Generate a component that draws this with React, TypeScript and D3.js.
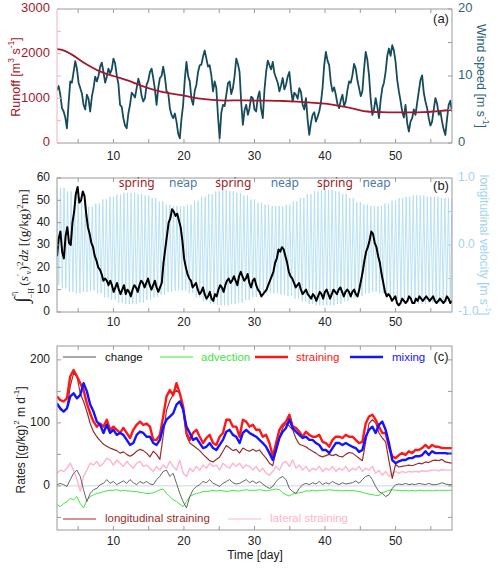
import React from 'react';
import * as d3 from 'd3';

// ---------- data ----------
const DAY_DOMAIN: [number, number] = [2, 58];
const DAY_TICKS = [5, 10, 15, 20, 25, 30, 35, 40, 45, 50, 55];
const DAY_LABELS = [10, 20, 30, 40, 50];

const runoffDays = [2, 3, 4, 6, 8, 10, 12, 14, 16, 18, 20, 22, 24, 26, 28, 30, 32, 34, 36, 38, 40, 42, 44, 46, 48, 50, 52, 54, 56, 58];
const runoff = [2100, 2070, 1990, 1780, 1610, 1500, 1400, 1280, 1180, 1110, 1060, 1000, 965, 950, 955, 950, 950, 940, 925, 905, 880, 830, 770, 705, 690, 685, 685, 690, 715, 740];

// wind speed, evenly sampled from day 2 to day 58
const wind = [7.9, 8.5, 7.2, 5.2, 4.7, 3.8, 2.2, 6.0, 9.2, 9.0, 10.6, 12.2, 11.1, 9.0, 8.2, 7.4, 5.7, 5.0, 7.2, 6.6,
  4.7, 6.9, 8.2, 9.9, 9.2, 10.0, 11.4, 12.0, 10.6, 9.0, 9.9, 11.1, 10.4, 11.0, 12.6, 11.9, 10.1, 8.8, 5.7, 5.4,
  3.7, 2.6, 2.2, 4.4, 5.7, 7.5, 7.2, 6.8, 8.2, 9.6, 8.7, 7.0, 6.2, 6.7, 8.7, 9.3, 10.6, 11.1, 9.7, 8.0,
  5.7, 8.2, 9.7, 10.0, 11.4, 9.9, 7.7, 7.5, 5.2, 4.2, 3.7, 4.4, 3.2, 1.4, 0.7, 3.6, 5.7, 9.5, 12.1, 10.0,
  9.2, 6.6, 5.7, 7.8, 8.7, 10.6, 11.6, 11.7, 12.9, 13.8, 12.6, 11.4, 11.6, 10.1, 7.7, 9.2, 8.2, 4.0, 0.7, 4.5,
  5.7, 5.5, 7.2, 8.9, 9.2, 7.3, 8.2, 10.0, 12.6, 11.8, 10.6, 6.0, 2.7, 4.9, 5.7, 4.2, 5.2, 6.9, 6.7, 5.0,
  4.7, 6.8, 7.7, 5.1, 3.7, 7.9, 10.6, 12.3, 11.6, 11.0, 12.1, 10.4, 9.7, 9.0, 7.7, 8.6, 9.7, 8.0, 8.7, 9.9,
  10.6, 8.0, 6.2, 7.5, 7.2, 6.6, 8.2, 7.6, 5.7, 5.0, 6.7, 3.5, 1.2, 3.0, 4.2, 4.6, 3.2, 3.9, 4.7, 6.0,
  8.2, 11.6, 13.6, 12.3, 11.6, 9.0, 7.7, 8.3, 7.2, 5.8, 5.2, 6.4, 7.2, 5.5, 6.2, 7.9, 9.2, 9.0, 10.1, 11.8,
  11.1, 9.4, 8.2, 7.0, 7.7, 11.0, 13.6, 12.4, 10.1, 6.6, 4.2, 5.0, 6.7, 5.4, 3.7, 6.4, 8.2, 9.0, 10.6, 13.0,
  14.1, 13.0, 14.6, 13.8, 12.1, 9.4, 7.7, 6.3, 4.7, 3.8, 5.7, 3.0, 1.7, 3.2, 3.7, 5.0, 4.2, 6.0, 7.7, 9.4,
  10.1, 7.5, 6.2, 5.2, 3.7, 2.6, 3.2, 5.0, 6.7, 5.9, 4.2, 4.8, 3.2, 2.0, 1.2, 3.6, 5.7, 6.3, 4.7];

// depth-integrated salinity variance, evenly sampled from day 2 to day 58
const saltVar = [25, 33, 36, 27, 24, 34, 38, 31, 30, 40, 45, 53, 56, 49, 50, 54, 52, 44, 38, 35,
  31, 29, 25, 23, 20, 19, 17, 14, 15, 14, 12, 14, 12, 9, 11, 13, 10, 8, 10, 12,
  8, 10, 9, 7, 10, 12, 11, 9, 12, 14, 13, 11, 13, 15, 12, 10, 12, 14, 11, 9,
  11, 13, 22, 28, 34, 40, 42, 46, 45, 43, 44, 41, 38, 32, 24, 20, 17, 15, 14, 11,
  12, 13, 10, 8, 9, 11, 8, 6, 7, 9, 6, 5, 8, 7, 10, 12, 11, 9, 12, 14,
  15, 13, 14, 16, 14, 12, 16, 18, 16, 14, 15, 17, 13, 11, 14, 15, 12, 10, 9, 7,
  8, 9, 10, 12, 14, 16, 18, 22, 24, 28, 27, 29, 28, 25, 22, 18, 16, 15, 13, 11,
  12, 13, 10, 8, 9, 10, 8, 7, 6, 8, 7, 5, 7, 9, 8, 6, 9, 10, 8, 6,
  8, 10, 9, 8, 10, 11, 9, 7, 9, 10, 9, 7, 9, 10, 8, 7, 10, 14, 18, 23,
  27, 29, 32, 36, 35, 31, 29, 25, 22, 17, 13, 9, 7, 8, 7, 5, 6, 7, 4, 3,
  4, 6, 5, 4, 5, 7, 6, 4, 4, 6, 5, 7, 6, 5, 6, 7, 6, 5, 6, 7,
  5, 4, 5, 6, 5, 4, 5, 7, 6, 4, 5];

// daily flood / ebb peaks of longitudinal velocity, days 2..58
const velHigh = [0.84, 0.85, 0.80, 0.74, 0.64, 0.57, 0.62, 0.68, 0.72, 0.75, 0.78, 0.78, 0.76, 0.74, 0.70, 0.65, 0.60, 0.58, 0.58, 0.60,
  0.66, 0.72, 0.76, 0.80, 0.82, 0.80, 0.78, 0.74, 0.68, 0.63, 0.60, 0.58, 0.58, 0.60, 0.65, 0.70, 0.76, 0.80, 0.82, 0.82,
  0.80, 0.76, 0.70, 0.64, 0.60, 0.58, 0.58, 0.62, 0.66, 0.70, 0.72, 0.74, 0.74, 0.72, 0.72, 0.70, 0.70];
const velLow = [-0.60, -0.65, -0.70, -0.72, -0.70, -0.68, -0.72, -0.78, -0.82, -0.86, -0.88, -0.88, -0.86, -0.82, -0.78, -0.74, -0.70, -0.68, -0.68, -0.72,
  -0.78, -0.84, -0.88, -0.90, -0.90, -0.88, -0.86, -0.82, -0.78, -0.74, -0.72, -0.72, -0.74, -0.76, -0.80, -0.84, -0.88, -0.90, -0.90, -0.90,
  -0.88, -0.84, -0.80, -0.76, -0.72, -0.70, -0.72, -0.76, -0.80, -0.84, -0.86, -0.88, -0.88, -0.86, -0.86, -0.85, -0.85];

const tideLabels = [
  { label: 'spring', day: 13.3 }, { label: 'neap', day: 19.9 },
  { label: 'spring', day: 27.0 }, { label: 'neap', day: 34.3 },
  { label: 'spring', day: 41.4 }, { label: 'neap', day: 47.3 },
];

// rates, evenly sampled from day 2 to day 58
const straining = [142, 136, 134, 139, 174, 184, 174, 163, 152, 131, 115, 102, 94, 99, 94, 105, 89, 94, 89, 84,
  92, 84, 76, 89, 97, 102, 97, 99, 94, 73, 73, 81, 110, 142, 152, 144, 163, 147, 126, 84,
  73, 84, 89, 78, 68, 76, 81, 68, 65, 78, 84, 105, 105, 94, 94, 78, 105, 102, 94, 97,
  89, 89, 78, 81, 68, 47, 68, 89, 97, 102, 113, 94, 92, 86, 78, 86, 81, 78, 78, 81,
  70, 68, 62, 73, 78, 78, 76, 81, 78, 78, 73, 68, 70, 99, 110, 113, 105, 94, 84, 84,
  62, 47, 44, 49, 52, 49, 55, 52, 57, 57, 60, 65, 60, 65, 62, 62, 60, 60, 60, 60];
const mixing = [131, 123, 118, 123, 142, 147, 139, 144, 163, 150, 129, 118, 102, 97, 84, 97, 84, 89, 81, 84,
  81, 73, 65, 68, 81, 86, 84, 78, 78, 68, 65, 73, 94, 105, 110, 115, 129, 134, 121, 94,
  84, 73, 76, 68, 60, 62, 68, 60, 57, 65, 73, 86, 89, 81, 78, 68, 84, 89, 84, 81,
  78, 73, 68, 62, 52, 41, 57, 76, 86, 92, 105, 92, 86, 81, 76, 78, 73, 73, 68, 65,
  57, 57, 52, 60, 68, 68, 65, 68, 65, 62, 60, 54, 57, 78, 89, 94, 84, 97, 102, 89,
  68, 41, 36, 39, 41, 41, 44, 44, 47, 47, 49, 55, 49, 55, 52, 52, 52, 52, 51, 51];
const longStraining = [129, 121, 118, 123, 158, 179, 174, 147, 134, 118, 99, 86, 78, 72, 66, 63, 60, 58, 56, 52,
  54, 50, 47, 50, 55, 58, 56, 52, 46, 55, 50, 42, 80, 120, 135, 145, 152, 146, 120, 80,
  68, 64, 60, 56, 50, 45, 40, 38, 42, 46, 55, 64, 60, 56, 58, 52, 60, 57, 55, 58,
  55, 57, 50, 44, 36, 32, 55, 78, 92, 99, 95, 89, 75, 66, 64, 62, 58, 55, 52, 48,
  46, 48, 50, 48, 50, 47, 46, 50, 53, 52, 48, 44, 40, 70, 99, 105, 100, 84, 76, 70,
  40, 12, 34, 30, 31, 32, 33, 32, 34, 36, 35, 38, 37, 40, 41, 40, 42, 38, 37, 36];
const latStraining = [20, 25, 23, 28, 36, 25, 10, -8, 15, 25, 36, 33, 39, 31, 36, 44, 41, 33, 41, 36,
  31, 39, 33, 28, 36, 39, 31, 33, 28, 23, 31, 25, 33, 28, 39, 31, 25, 41, 20, 15,
  28, 23, 31, 25, 33, 28, 36, 31, 33, 25, 36, 31, 28, 36, 31, 36, 28, 33, 31, 25,
  31, 23, 28, 20, 17, 23, 31, 25, 36, 39, 31, 41, 28, 33, 25, 31, 23, 28, 25, 31,
  23, 28, 25, 31, 23, 28, 25, 31, 23, 28, 25, 31, 23, 28, 25, 31, 20, 25, 17, 23,
  15, 20, 23, 20, 23, 21, 23, 22, 23, 22, 24, 23, 24, 25, 25, 24, 26, 25, 25, 25];
const change = [2, 4, 2, -1, 10, 20, 25, 15, -6, -25, -12, -6, -4, 2, 4, 10, 4, 7, 2, 5,
  8, 4, 10, 5, 2, 7, 4, 7, 3, 2, 10, 15, 23, 25, 15, 20, 4, -12, -25, -35,
  -17, -6, -1, 2, 7, 5, 10, 4, 2, -1, 4, 7, 10, 5, 3, 4, 7, 10, 5, 8,
  4, 7, 3, -1, -4, -1, 7, 12, 15, 10, -4, -9, -12, -4, 2, 4, 2, 5, 3, 7,
  2, 5, 3, 7, 4, 2, 5, 3, 4, 5, 8, 4, 10, 15, 17, 10, -1, -9, -12, -17,
  -14, -4, 2, 3, 2, 4, 2, 3, 2, 4, 3, 2, 4, 2, 2, 3, 5, 3, 2, 2];
const advection = [-30, -33, -28, -25, -20, -22, -17, -28, -35, -22, -17, -14, -12, -11, -9, -8, -7, -7, -6, -8,
  -7, -8, -8, -9, -9, -10, -11, -12, -12, -11, -9, -6, -5, -12, -17, -22, -25, -29, -33, -25,
  -17, -14, -12, -11, -9, -9, -8, -7, -8, -7, -8, -9, -8, -7, -8, -8, -7, -6, -7, -7,
  -7, -6, -7, -8, -7, -6, -5, -6, -11, -14, -16, -13, -12, -11, -10, -8, -8, -7, -8, -7,
  -7, -7, -6, -7, -7, -7, -8, -7, -8, -7, -8, -9, -10, -12, -13, -14, -15, -15, -11, -9,
  -7, -6, -7, -7, -8, -7, -8, -7, -8, -7, -7, -8, -7, -8, -7, -7, -7, -7, -7, -7];

// ---------- style ----------
const FONT = "'Liberation Sans', Arial, Helvetica, sans-serif";
const C = {
  runoff: '#a3182d', wind: '#164b5c', runAxis: '#f0b3bc', windLab: '#2f6575',
  vel: '#a9daf1', velLab: '#9fd4ee', spring: '#9b2226', neap: '#4a78a8',
  change: '#555555', adv: '#3ee83e', strain: '#ff1616', mix: '#1414ff',
  lon: '#9b2d2d', lat: '#ffb4c8', frame: '#9a9a9a', zero: '#c5dbe4',
};

const x = d3.scaleLinear().domain(DAY_DOMAIN).range([57, 452]);
const even = (n: number) => d3.scaleLinear().domain([0, n - 1]).range(DAY_DOMAIN);

function seriesPts(vals: number[]): [number, number][] {
  const t = even(vals.length);
  return vals.map((v, i) => [t(i), v]);
}

function XAxis({ top, bottom, labelY }: { top: number; bottom: number; labelY: number }) {
  return (
    <g>
      {DAY_TICKS.map((d) => (
        <g key={d}>
          <line x1={x(d)} x2={x(d)} y1={top} y2={top + 4} stroke={C.frame} />
          <line x1={x(d)} x2={x(d)} y1={bottom} y2={bottom - 4} stroke={C.frame} />
        </g>
      ))}
      {DAY_LABELS.map((d) => (
        <text key={d} x={x(d)} y={labelY} textAnchor="middle" dominantBaseline="middle" fontSize={12} fontFamily={FONT} fill="#222">{d}</text>
      ))}
    </g>
  );
}

export default function App() {
  const yRun = d3.scaleLinear().domain([0, 3000]).range([143, 9]);
  const yWind = d3.scaleLinear().domain([0, 20]).range([143, 9]);
  const yVar = d3.scaleLinear().domain([0, 60]).range([312, 178]);
  const yVel = d3.scaleLinear().domain([-1, 1]).range([312, 178]);
  const yRate = d3.scaleLinear().domain([-70, 222]).range([530, 346]);

  const lineA = (ys: d3.ScaleLinear<number, number>) =>
    d3.line<[number, number]>().x((p) => x(p[0])).y((p) => ys(p[1]));

  const runPath = d3.line<[number, number]>().x((p) => x(p[0])).y((p) => yRun(p[1])).curve(d3.curveMonotoneX)(
    runoffDays.map((d, i) => [d, runoff[i]] as [number, number]))!;
  const windPath = lineA(yWind)(seriesPts(wind))!;
  const varPath = lineA(yVar)(seriesPts(saltVar))!;

  const velPts: [number, number][] = [];
  const nHalf = (DAY_DOMAIN[1] - DAY_DOMAIN[0]) * 4;
  for (let k = 0; k <= nHalf; k++) {
    const t = DAY_DOMAIN[0] + k * 0.25;
    const di = Math.min(velHigh.length - 1, Math.round(t - DAY_DOMAIN[0]));
    velPts.push([t, k % 2 === 0 ? velHigh[di] : velLow[di]]);
  }
  const velPath = lineA(yVel)(velPts)!;

  const rl = lineA(yRate);
  const rates = [
    { v: latStraining, c: C.lat, w: 1.4 },
    { v: advection, c: C.adv, w: 1 },
    { v: change, c: C.change, w: 0.9 },
    { v: longStraining, c: C.lon, w: 1.2 },
    { v: straining, c: C.strain, w: 2.4 },
    { v: mixing, c: C.mix, w: 2.4 },
  ];

  const tickL = (y: number, key: string | number, color = C.frame) => (
    <line key={key} x1={57} x2={61} y1={y} y2={y} stroke={color} />
  );
  const tickR = (y: number, key: string | number, color = C.frame) => (
    <line key={key} x1={452} x2={448} y1={y} y2={y} stroke={color} />
  );

  return (
    <svg width={500} height={568} style={{ position: 'absolute', left: 0, top: 0, background: '#fff' }} fontFamily={FONT}>
      <defs>
        <clipPath id="ca"><rect x={57} y={9} width={395} height={134} /></clipPath>
        <clipPath id="cb"><rect x={57} y={178} width={395} height={134} /></clipPath>
        <clipPath id="cc"><rect x={57} y={346} width={395} height={184} /></clipPath>
      </defs>

      {/* ---------- panel a ---------- */}
      <g clipPath="url(#ca)">
        <path d={windPath} fill="none" stroke={C.wind} strokeWidth={1.8} strokeLinejoin="round" />
        <path d={runPath} fill="none" stroke={C.runoff} strokeWidth={1.8} />
      </g>
      <line x1={57} x2={452} y1={9} y2={9} stroke={C.frame} />
      <line x1={57} x2={452} y1={143} y2={143} stroke={C.frame} />
      <line x1={57} x2={57} y1={9} y2={143} stroke={C.runAxis} />
      <line x1={452} x2={452} y1={9} y2={143} stroke={C.frame} />
      {d3.range(0, 3001, 500).map((v) => tickL(yRun(v), 'ra' + v, C.runAxis))}
      {[0, 1000, 2000, 3000].map((v) => (
        <text key={v} x={50} y={yRun(v)} textAnchor="end" dominantBaseline="middle" fontSize={13} fill={C.runoff}>{v}</text>
      ))}
      {d3.range(0, 21, 5).map((v) => tickR(yWind(v), 'wa' + v))}
      {[0, 10, 20].map((v) => (
        <text key={v} x={458} y={yWind(v)} textAnchor="start" dominantBaseline="middle" fontSize={13} fill={C.windLab}>{v}</text>
      ))}
      <XAxis top={9} bottom={143} labelY={157} />
      <text x={441} y={20} textAnchor="middle" dominantBaseline="middle" fontSize={13} fill="#222">(a)</text>
      <text transform="translate(17,77) rotate(-90)" textAnchor="middle" dominantBaseline="middle" fontSize={12.5} fill={C.runoff}>
        Runoff [m<tspan dy={-5} fontSize={8.5}>3</tspan><tspan dy={5}> s</tspan><tspan dy={-5} fontSize={8.5}>-1</tspan><tspan dy={5}>]</tspan>
      </text>
      <text transform="translate(480,76) rotate(90)" textAnchor="middle" dominantBaseline="middle" fontSize={12.5} fill={C.windLab}>
        Wind speed [m s<tspan dy={-5} fontSize={8.5}>-1</tspan><tspan dy={5}>]</tspan>
      </text>

      {/* ---------- panel b ---------- */}
      <g clipPath="url(#cb)">
        <path d={velPath} fill="none" stroke={C.vel} strokeWidth={0.8} />
        <path d={varPath} fill="none" stroke="#000" strokeWidth={2} strokeLinejoin="round" />
      </g>
      <rect x={57} y={178} width={395} height={134} fill="none" stroke={C.frame} />
      {d3.range(0, 61, 10).map((v) => tickL(yVar(v), 'va' + v))}
      {d3.range(0, 61, 10).map((v) => (
        <text key={v} x={50} y={yVar(v)} textAnchor="end" dominantBaseline="middle" fontSize={12} fill="#222">{v}</text>
      ))}
      {[-1, -0.5, 0, 0.5, 1].map((v) => tickR(yVel(v), 'ua' + v, C.velLab))}
      {[-1, 0, 1].map((v) => (
        <text key={v} x={458} y={yVel(v)} textAnchor="start" dominantBaseline="middle" fontSize={12} fill={C.velLab}>{d3.format('.1f')(v).replace('−', '-')}</text>
      ))}
      <XAxis top={178} bottom={312} labelY={323} />
      {tideLabels.map((t, i) => (
        <text key={i} x={x(t.day)} y={184} textAnchor="middle" dominantBaseline="middle" fontSize={12}
          fontFamily="'Noto Sans', 'Open Sans', sans-serif" fill={t.label === 'spring' ? C.spring : C.neap}>{t.label}</text>
      ))}
      <text x={441} y={187} textAnchor="middle" dominantBaseline="middle" fontSize={13} fill="#222">(b)</text>
      <text transform="translate(483,245) rotate(90)" textAnchor="middle" dominantBaseline="middle" fontSize={12} fill={C.velLab}>
        longitudinal velocity [m s<tspan dy={-5} fontSize={8}>-1</tspan><tspan dy={5}>]</tspan>
      </text>
      <text transform="translate(28,246) rotate(-90)" textAnchor="middle" fontSize={13.5} fontFamily="'Liberation Serif', 'DejaVu Serif', serif" fill="#222">
        <tspan fontSize={20}>∫</tspan>
        <tspan fontSize={8} dy={6} dx={-1}>−H</tspan>
        <tspan fontSize={8} dx={-8} dy={-18}>η</tspan>
        <tspan dy={12} dx={6}>(</tspan>
        <tspan fontStyle="italic">s</tspan>
        <tspan fontSize={9} dy={-5}>′</tspan>
        <tspan fontSize={8} dy={8} fontStyle="italic">v</tspan>
        <tspan dy={-3}>)</tspan>
        <tspan fontSize={9} dy={-5}>2</tspan>
        <tspan dy={5} fontStyle="italic">dz</tspan>
        <tspan> [(g/kg)</tspan>
        <tspan fontSize={9} dy={-5}>2</tspan>
        <tspan dy={5}>m]</tspan>
      </text>

      {/* ---------- panel c ---------- */}
      <line x1={57} x2={452} y1={yRate(0)} y2={yRate(0)} stroke={C.zero} strokeWidth={1} />
      <g clipPath="url(#cc)">
        {rates.map((r, i) => (
          <path key={i} d={rl(seriesPts(r.v))!} fill="none" stroke={r.c} strokeWidth={r.w} strokeLinejoin="round" />
        ))}
      </g>
      <rect x={57} y={346} width={395} height={184} fill="none" stroke={C.frame} />
      {d3.range(-50, 201, 50).map((v) => tickL(yRate(v), 'rl' + v))}
      {d3.range(-50, 201, 50).map((v) => tickR(yRate(v), 'rr' + v))}
      {[0, 100, 200].map((v) => (
        <text key={v} x={50} y={yRate(v)} textAnchor="end" dominantBaseline="middle" fontSize={12} fill="#222">{v}</text>
      ))}
      <XAxis top={346} bottom={530} labelY={542} />
      <text x={255} y={556} textAnchor="middle" dominantBaseline="middle" fontSize={12} fill="#222">Time [day]</text>
      <text transform="translate(22,440) rotate(-90)" textAnchor="middle" dominantBaseline="middle" fontSize={12} fill="#222">
        Rates [(g/kg)<tspan dy={-5} fontSize={8}>2</tspan><tspan dy={5}> m d</tspan><tspan dy={-5} fontSize={8}>-1</tspan><tspan dy={5}>]</tspan>
      </text>
      {[
        { l: 'change', c: C.change, w: 1, x0: 63, tx: 105 },
        { l: 'advection', c: C.adv, w: 1, x0: 160, tx: 201 },
        { l: 'straining', c: C.strain, w: 2.4, x0: 255, tx: 296 },
        { l: 'mixing', c: C.mix, w: 2.4, x0: 350, tx: 392 },
      ].map((e) => (
        <g key={e.l}>
          <line x1={e.x0} x2={e.x0 + 33} y1={357} y2={357} stroke={e.c} strokeWidth={e.w} />
          <text x={e.tx} y={358} dominantBaseline="middle" fontSize={11.5} fill={e.c === C.change ? '#111' : e.c}>{e.l}</text>
        </g>
      ))}
      <text x={441} y={358} textAnchor="middle" dominantBaseline="middle" fontSize={13} fill="#222">(c)</text>
      {[
        { l: 'longitudinal straining', c: C.lon, x0: 63, tx: 105 },
        { l: 'lateral straining', c: C.lat, x0: 228, tx: 270 },
      ].map((e) => (
        <g key={e.l}>
          <line x1={e.x0} x2={e.x0 + 33} y1={519} y2={519} stroke={e.c} strokeWidth={1.2} />
          <text x={e.tx} y={519} dominantBaseline="middle" fontSize={11.5} fill={e.c}>{e.l}</text>
        </g>
      ))}
    </svg>
  );
}
